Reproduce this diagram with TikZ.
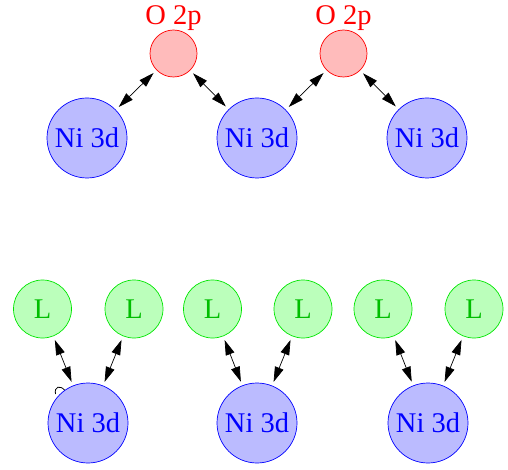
\documentclass[tikz,border=0pt]{standalone}
\usepackage{fontspec}
\setmainfont{Liberation Serif}
\usetikzlibrary{arrows.meta}
\definecolor{nifill}{RGB}{187,187,255}
\definecolor{ofill}{RGB}{255,187,187}
\definecolor{lfill}{RGB}{187,255,187}
\definecolor{lline}{RGB}{0,230,0}
\definecolor{ltext}{RGB}{0,190,0}
\begin{document}
\begin{tikzpicture}[x=1pt,y=-1pt,
  every node/.style={font=\fontsize{28.5}{32}\selectfont},
  nibox/.style={circle,draw=blue,fill=nifill,text=blue,minimum size=80pt,inner sep=0pt,line width=0.7pt},
  obox/.style={circle,draw=red,fill=ofill,minimum size=47pt,inner sep=0pt,line width=0.7pt},
  lbox/.style={circle,draw=lline,fill=lfill,text=ltext,minimum size=58pt,inner sep=0pt,line width=0.7pt},
  olabel/.style={text=red,inner sep=0pt},
  link/.style={{Triangle[length=15pt,width=9pt]}-{Triangle[length=15pt,width=9pt]},line width=0.7pt,shorten <=4pt,shorten >=4pt}]
\useasboundingbox (0,0) rectangle (508,470);
% top row
\node[nibox] (n1) at (87,138) {Ni 3d};
\node[nibox] (n2) at (257,138) {Ni 3d};
\node[nibox] (n3) at (427,138) {Ni 3d};
\node[obox] (o1) at (173.5,53.5) {};
\node[obox] (o2) at (343.5,53.5) {};
\node[olabel,anchor=base] (ol1) at (173.5,25) {O 2p};
\node[olabel,anchor=base] (ol2) at (343.5,25) {O 2p};
\draw[link] (o1) -- (n1);
\draw[link] (o1) -- (n2);
\draw[link] (o2) -- (n2);
\draw[link] (o2) -- (n3);
% bottom row
\node[nibox] (m1) at (88,423) {Ni 3d};
\node[nibox] (m2) at (257,423) {Ni 3d};
\node[nibox] (m3) at (428,423) {Ni 3d};
\node[lbox] (l1) at (42.5,309) {L};
\node[lbox] (l2) at (134,309) {L};
\node[lbox] (l3) at (212.5,309) {L};
\node[lbox] (l4) at (303,309) {L};
\node[lbox] (l5) at (383,309) {L};
\node[lbox] (l6) at (474,309) {L};
\draw[link] (l1) -- (m1);
\draw[link] (l2) -- (m1);
\draw[link] (l3) -- (m2);
\draw[link] (l4) -- (m2);
\draw[link] (l5) -- (m3);
\draw[link] (l6) -- (m3);
% small stray arc
\coordinate (s1) at (55.5,394);
\coordinate (s2) at (64.5,390);
\draw[line width=0.8pt] (s1) .. controls (54,386.5) and (60,385) .. (s2);
\end{tikzpicture}
\end{document}
